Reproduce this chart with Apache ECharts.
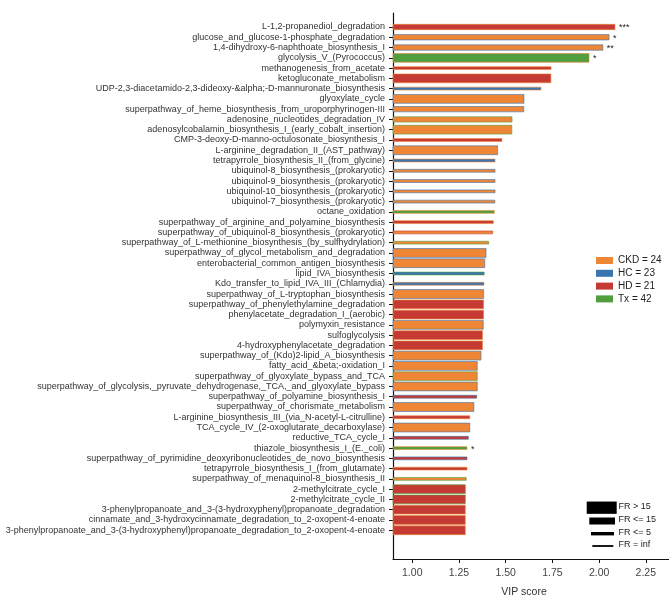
<!DOCTYPE html>
<html>
<head>
<meta charset="utf-8">
<script src="https://cdn.jsdelivr.net/npm/echarts@6/dist/echarts.min.js"></script>
<style>html,body{margin:0;padding:0;background:#fff}#c{width:669px;height:598px}</style>
</head>
<body>
<div id="c"></div>
<script>
const categories = [
"L-1,2-propanediol_degradation",
"glucose_and_glucose-1-phosphate_degradation",
"1,4-dihydroxy-6-naphthoate_biosynthesis_I",
"glycolysis_V_(Pyrococcus)",
"methanogenesis_from_acetate",
"ketogluconate_metabolism",
"UDP-2,3-diacetamido-2,3-dideoxy-&alpha;-D-mannuronate_biosynthesis",
"glyoxylate_cycle",
"superpathway_of_heme_biosynthesis_from_uroporphyrinogen-III",
"adenosine_nucleotides_degradation_IV",
"adenosylcobalamin_biosynthesis_I_(early_cobalt_insertion)",
"CMP-3-deoxy-D-manno-octulosonate_biosynthesis_I",
"L-arginine_degradation_II_(AST_pathway)",
"tetrapyrrole_biosynthesis_II_(from_glycine)",
"ubiquinol-8_biosynthesis_(prokaryotic)",
"ubiquinol-9_biosynthesis_(prokaryotic)",
"ubiquinol-10_biosynthesis_(prokaryotic)",
"ubiquinol-7_biosynthesis_(prokaryotic)",
"octane_oxidation",
"superpathway_of_arginine_and_polyamine_biosynthesis",
"superpathway_of_ubiquinol-8_biosynthesis_(prokaryotic)",
"superpathway_of_L-methionine_biosynthesis_(by_sulfhydrylation)",
"superpathway_of_glycol_metabolism_and_degradation",
"enterobacterial_common_antigen_biosynthesis",
"lipid_IVA_biosynthesis",
"Kdo_transfer_to_lipid_IVA_III_(Chlamydia)",
"superpathway_of_L-tryptophan_biosynthesis",
"superpathway_of_phenylethylamine_degradation",
"phenylacetate_degradation_I_(aerobic)",
"polymyxin_resistance",
"sulfoglycolysis",
"4-hydroxyphenylacetate_degradation",
"superpathway_of_(Kdo)2-lipid_A_biosynthesis",
"fatty_acid_&beta;-oxidation_I",
"superpathway_of_glyoxylate_bypass_and_TCA",
"superpathway_of_glycolysis,_pyruvate_dehydrogenase,_TCA,_and_glyoxylate_bypass",
"superpathway_of_polyamine_biosynthesis_I",
"superpathway_of_chorismate_metabolism",
"L-arginine_biosynthesis_III_(via_N-acetyl-L-citrulline)",
"TCA_cycle_IV_(2-oxoglutarate_decarboxylase)",
"reductive_TCA_cycle_I",
"thiazole_biosynthesis_I_(E._coli)",
"superpathway_of_pyrimidine_deoxyribonucleotides_de_novo_biosynthesis",
"tetrapyrrole_biosynthesis_I_(from_glutamate)",
"superpathway_of_menaquinol-8_biosynthesis_II",
"2-methylcitrate_cycle_I",
"2-methylcitrate_cycle_II",
"3-phenylpropanoate_and_3-(3-hydroxyphenyl)propanoate_degradation",
"cinnamate_and_3-hydroxycinnamate_degradation_to_2-oxopent-4-enoate",
"3-phenylpropanoate_and_3-(3-hydroxyphenyl)propanoate_degradation_to_2-oxopent-4-enoate"
];
const vipScores = [
2.085, 2.053, 2.020, 1.946, 1.743, 1.742, 1.689, 1.598, 1.597, 1.534,
1.533, 1.480, 1.457, 1.443, 1.443, 1.443, 1.443, 1.442, 1.439, 1.434,
1.430, 1.409, 1.395, 1.388, 1.385, 1.384, 1.382, 1.382, 1.382, 1.380,
1.376, 1.376, 1.368, 1.348, 1.348, 1.348, 1.345, 1.330, 1.308, 1.308,
1.300, 1.293, 1.293, 1.293, 1.289, 1.284, 1.284, 1.284, 1.284, 1.284
];
// group with highest abundance (bar fill)
const fillGroup = [
"HD","CKD","CKD","Tx","HD","HD","HC","CKD","CKD","CKD",
"CKD","HD","CKD","HC","CKD","CKD","CKD","CKD","Tx","HD",
"CKD","CKD","CKD","CKD","HC","HC","CKD","HD","HD","CKD",
"HD","HD","CKD","CKD","CKD","CKD","HD","CKD","HD","CKD",
"HD","Tx","HD","HD","CKD","HD","HD","HD","HD","HD"
];
// second group (bar edge)
const edgeGroup = [
"CKD","HC","HC","CKD","CKD","CKD","CKD","HC","HC","Tx",
"Tx","CKD","HC","CKD","HC","HC","HC","HC","CKD","CKD",
"HD","Tx","HC","HC","Tx","CKD","HC","CKD","CKD","HC",
"CKD","CKD","HC","HC","Tx","HC","HC","HC","CKD","HC",
"HC","CKD","HC","CKD","Tx","Tx","Tx","CKD","CKD","CKD"
];
// fold-ratio class
const frClass = [
"le15","le15","le15","gt15","le5","gt15","le5","gt15","le15","le15",
"gt15","le5","gt15","le5","le5","le5","le5","le5","le5","le5",
"le5","le5","gt15","gt15","le5","le5","gt15","gt15","gt15","gt15",
"gt15","gt15","gt15","gt15","gt15","gt15","le5","gt15","le5","gt15",
"le5","le5","le5","le5","le5","gt15","gt15","gt15","gt15","gt15"
];
const stars = ["***","*","**","*","","","","","","",
"","","","","","","","","","",
"","","","","","","","","","",
"","","","","","","","","","",
"","*","","","","","","","",""];
const groups = ["CKD","HC","HD","Tx"];
const groupCounts = [24, 23, 21, 42];
const xTicks = [1.00, 1.25, 1.50, 1.75, 2.00, 2.25];
const frLegend = ["FR > 15", "FR <= 15", "FR <= 5", "FR = inf"];

const colors = {CKD:"#EF8636", HC:"#3B75AF", HD:"#C53A32", Tx:"#519E3E"};
const edgeColors = {CKD:"rgba(239,134,54,0.6)", HC:"rgba(59,117,175,0.6)", HD:"rgba(197,58,50,0.6)", Tx:"rgba(81,158,62,0.6)"};
const frHeight = {gt15:0.86, le15:0.52, le5:0.28, inf:0.17};
const X_MIN = 0.897, X_MAX = 2.374;
const FONT = "'Liberation Sans', Arial, sans-serif";

function renderItem(params, api) {
  const i = api.value(0);
  const v = api.value(1);
  const s = api.coord([X_MIN, i]);
  const e = api.coord([v, i]);
  const h = api.size([0, frHeight[frClass[i]]])[1];
  const children = [{
    type: 'rect',
    shape: {x: s[0], y: e[1] - h / 2, width: e[0] - s[0], height: h},
    style: {fill: colors[fillGroup[i]], stroke: edgeColors[edgeGroup[i]], lineWidth: 1}
  }];
  if (stars[i]) {
    children.push({
      type: 'text',
      style: {x: e[0] + 4, y: e[1] + 1, text: stars[i], fill: '#222', font: '9px ' + FONT, verticalAlign: 'middle', align: 'left'}
    });
  }
  return {type: 'group', children};
}

const series = groups.map((g, gi) => ({
  type: 'custom',
  name: g + ' = ' + groupCounts[gi],
  color: colors[g],
  itemStyle: {color: colors[g]},
  renderItem,
  encode: {x: 1, y: 0},
  data: categories.map((c, i) => [i, vipScores[i]]).filter((d) => fillGroup[d[0]] === g)
}));

const yIdx = categories.map((c, i) => i);
const chart = echarts.init(document.getElementById('c'), null, {renderer: 'canvas'});
const frH = [12.3, 7, 3.4, 1.8];
const frW = [30, 25.7, 23, 21];
const frRight = [616.7, 615, 614, 613.3];
const frY = [507.7, 521, 533.7, 546];
const graphics = [];
frLegend.forEach((t, k) => {
  graphics.push({type: 'rect', left: frRight[k] - frW[k], top: frY[k] - frH[k] / 2,
    shape: {width: frW[k], height: frH[k]}, style: {fill: '#000'}, z: 10});
  graphics.push({type: 'text', left: 618.5, top: frY[k] - 5.5, style: {text: t, fill: '#222', font: '9px ' + FONT}, z: 10});
});

chart.setOption({
  animation: false,
  backgroundColor: '#fff',
  textStyle: {fontFamily: FONT},
  grid: {left: 393, right: 0, top: 13, bottom: 39, containLabel: false, outerBoundsMode: 'none'},
  xAxis: {
    type: 'value', min: X_MIN, max: X_MAX,
    name: 'VIP score', nameLocation: 'middle', nameGap: 28,
    nameTextStyle: {fontSize: 10.5, color: '#333', fontFamily: FONT, padding: [0, 14, 0, 0]},
    axisLine: {show: true, onZero: false, lineStyle: {color: '#111', width: 1.2}},
    axisTick: {show: true, length: 4, customValues: xTicks, lineStyle: {color: '#111'}},
    axisLabel: {customValues: xTicks, formatter: (v) => v.toFixed(2), fontSize: 10.5, color: '#444', margin: 9, fontFamily: FONT},
    splitLine: {show: false}
  },
  yAxis: {
    type: 'value', min: -1.363, max: 51.8, inverse: true,
    axisLine: {show: true, onZero: false, lineStyle: {color: '#111', width: 1.2}},
    axisTick: {show: true, length: 4, customValues: yIdx, lineStyle: {color: '#111'}},
    axisLabel: {customValues: yIdx, formatter: (v) => categories[Math.round(v)], fontSize: 9, color: '#333', margin: 8, fontFamily: FONT},
    splitLine: {show: false}
  },
  legend: {
    orient: 'vertical', left: 591, top: 250.5, itemWidth: 17, itemHeight: 7, itemGap: 2.8,
    icon: 'rect', textStyle: {fontSize: 10, color: '#222', fontFamily: FONT},
    data: series.map((s) => s.name)
  },
  graphic: graphics,
  series
});
</script>
</body>
</html>
